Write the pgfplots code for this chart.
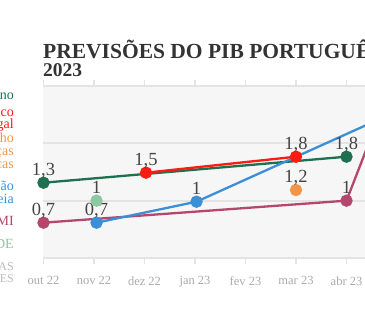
\documentclass[border=0pt]{standalone}
\usepackage{fontspec}
\setmainfont{Liberation Serif}
\usepackage{pgfplots}
\pgfplotsset{compat=1.18}
\definecolor{cgov}{HTML}{1E7050}
\definecolor{cbdp}{HTML}{FF1A12}
\definecolor{ccfp}{HTML}{F0954A}
\definecolor{cce}{HTML}{3B8FD6}
\definecolor{cfmi}{HTML}{B5476E}
\definecolor{cocde}{HTML}{8CC8A0}
\definecolor{cgrid}{HTML}{E4E4E4}
\definecolor{cbg}{HTML}{F6F6F6}
\definecolor{ctick}{HTML}{AAAAAA}
\definecolor{clab}{HTML}{444444}
\definecolor{ctitle}{HTML}{333333}
\definecolor{cgray}{HTML}{BBBBBB}
\newcommand{\fs}[1]{\fontsize{#1}{#1}\selectfont}
\begin{document}
\begin{tikzpicture}[x=1pt,y=1pt]
\path[use as bounding box] (0,0) rectangle (365,330);
\clip (0,0) rectangle (365,330);
\begin{axis}[
  at={(43.5pt,72pt)}, anchor=south west,
  scale only axis, width=404pt, height=172pt,
  xmin=0, xmax=8, ymin=0, ymax=3,
  axis line style={draw=none},
  axis background/.style={fill=cbg},
  ytick={0,1,2,3}, yticklabels={},
  ymajorgrids, grid style={cgrid, line width=2.2pt},
  ytick style={draw=none},
  xtick={0,1,2,3,4,5,6,7},
  xticklabels={out 22,nov 22,dez 22,jan 23,fev 23,mar 23,abr 23,mai 23},
  tick align=outside, major tick length=6pt,
  xtick style={draw=cgrid, line width=1.5pt},
  xticklabel style={font=\fs{12.5}, text=ctick, yshift=-9pt},
  clip=false,
  every axis plot/.append style={line width=2.3pt, mark=*, mark size=5pt, mark options={line width=0.6pt}},
  nodes near coords, point meta=explicit symbolic,
  every node near coord/.append style={anchor=base, yshift=7.5pt, inner sep=0pt, font=\fs{18.5}, text=clab},
]
\addplot[cfmi, mark options={fill=cfmi}] coordinates {(0,0.616)[0,7] (6,1.0)[1] (6.7,2.59)[2,6]};
\addplot[cgov, mark options={fill=cgov}] coordinates {(0,1.313)[1,3] (6,1.767)[1,8]};
\addplot[cce, mark options={fill=cce}] coordinates {(1.05,0.616)[0,7] (3.03,0.982)[1] (7,2.56)[2,6]};
\addplot[cbdp, mark options={fill=cbdp}] coordinates {(2.03,1.488)[1,5] (5,1.767)[1,8]};
\addplot[ccfp, mark options={fill=ccfp}, only marks] coordinates {(5,1.186)[1,2]};
\addplot[cocde, mark options={fill=cocde}, only marks] coordinates {(1.05,1.0)[1]};
\end{axis}
\node[anchor=base west, inner sep=0pt, font=\fs{21.5}\bfseries, text=ctitle] at (43,271) {PREVISÕES DO PIB PORTUGUÊS};
\node[anchor=base west, inner sep=0pt, font=\fs{19.5}\bfseries, text=ctitle] at (43,253) {2023};
\begin{scope}[every node/.style={anchor=base east, inner sep=0pt, font=\fs{14}}]
\node[text=cgov] at (14,230) {Governo};
\node[text=cbdp] at (14,213) {Banco};
\node[text=cbdp] at (14,201) {de Portugal};
\node[text=ccfp] at (14,187) {Conselho};
\node[text=ccfp] at (14,174) {das Finanças};
\node[text=ccfp] at (14,161) {Públicas};
\node[text=cce] at (14,139) {Comissão};
\node[text=cce] at (14,126) {Europeia};
\node[text=cfmi] at (14,104) {FMI};
\node[text=cocde] at (14,81) {OCDE};
\node[text=cgray, font=\fs{12}] at (14,59) {ANALISTAS};
\node[text=cgray, font=\fs{12}] at (14,47) {ENTIDADES};
\end{scope}
\end{tikzpicture}
\end{document}
